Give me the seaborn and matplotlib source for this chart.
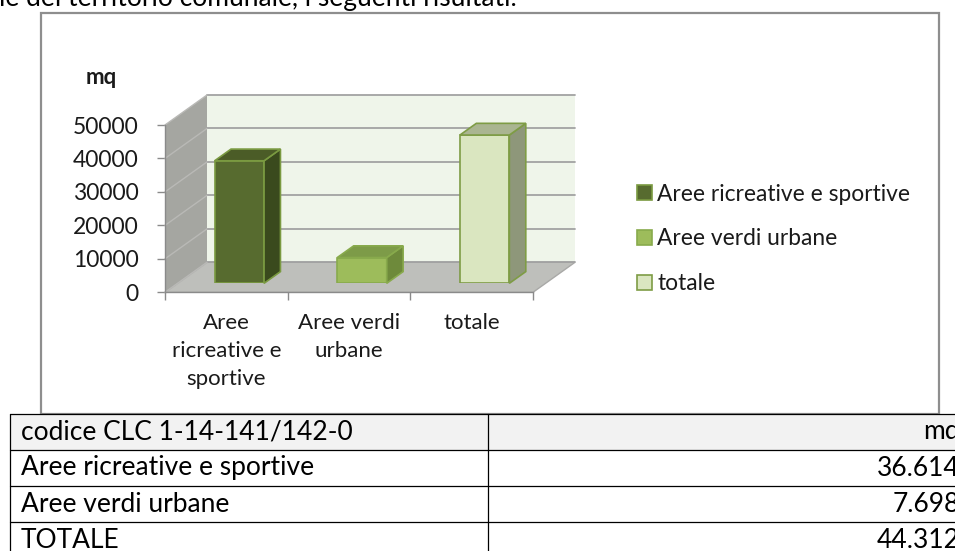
import matplotlib
matplotlib.use("Agg")
import matplotlib.pyplot as plt
from matplotlib.patches import Polygon, Rectangle, Patch
from matplotlib.lines import Line2D
import pandas as pd
import seaborn as sns

# --- data -------------------------------------------------------------
categorie = ["Aree ricreative e sportive", "Aree verdi urbane", "totale"]
etichette_asse = ["Aree\nricreative e\nsportive", "Aree verdi\nurbane", "totale"]
superfici_mq = [36614, 7698, 44312]
righe_tabella = ["Aree ricreative e sportive", "Aree verdi urbane", "TOTALE"]
intestazione = ["codice CLC 1-14-141/142-0", "mq"]
tick_y = [0, 10000, 20000, 30000, 40000, 50000]
tick_y_labels = ["0", "10000", "20000", "30000", "40000", "50000"]
testo_sopra = "le del territorio comunale, i seguenti risultati."

# --- colours ------------------------------------------------------------
colori_fronte = ["#576B2F", "#9DBC5B", "#DAE6C0"]
colori_lato = ["#3A4A1D", "#6E8A3B", "#8E977A"]
colori_cima = ["#4B5C27", "#7D9B48", "#AAB591"]
colori_bordo = ["#7A9A41", "#88AA4C", "#7E9C45"]

sns.set_theme(style="white")
plt.rcParams["font.family"] = ["Lato", "DejaVu Sans"]

W, H = 955, 551
fig = plt.figure(figsize=(W / 100, H / 100), dpi=100)
fig.patch.set_facecolor("white")


def fx(px):
    return px / W


def fy(py):
    return 1 - py / H


TXT = "#1A1A1A"

# --- main (front) axes: category axis and value axis ---------------------
AX_L, AX_R, AX_T, AX_B = 165, 533, 125, 292.3
ax_w, ax_h = (AX_R - AX_L) / W, (AX_B - AX_T) / H
ax = fig.add_axes([fx(AX_L), fy(AX_B), ax_w, ax_h])
ax.set_xlim(-0.5, 2.5)
ax.set_ylim(0, 50000)
ax.patch.set_visible(False)

px_cat = (AX_R - AX_L) / 3.0
px_val = (AX_B - AX_T) / 50000.0
DX = 42 / px_cat          # depth of the 3-D box, in category units
DY = 30 / px_val          # depth of the 3-D box, in value units

back = Polygon([(-0.5 + DX, DY), (2.5 + DX, DY), (2.5 + DX, 50000 + DY),
                (-0.5 + DX, 50000 + DY)], closed=True, fc="#EFF5EA",
               ec="none", clip_on=False, zorder=0)
side = Polygon([(-0.5, 0), (-0.5 + DX, DY), (-0.5 + DX, 50000 + DY),
                (-0.5, 50000)], closed=True, fc="#A5A6A1", ec="none",
               clip_on=False, zorder=0)
floor = Polygon([(-0.5, 0), (2.5, 0), (2.5 + DX, DY), (-0.5 + DX, DY)],
                closed=True, fc="#BEBFBB", ec="#A9A9A7", lw=1.0,
                clip_on=False, zorder=0.5)
for poly in (back, side, floor):
    ax.add_patch(poly)

for v in tick_y:
    ax.plot([-0.5 + DX, 2.5 + DX], [v + DY, v + DY], color="#A2A2A2",
            lw=1.3, clip_on=False, zorder=1)
    ax.plot([-0.5, -0.5 + DX], [v, v + DY], color="#B9B9B6", lw=1.0,
            clip_on=False, zorder=1)

ax.set_yticks(tick_y, labels=tick_y_labels)
ax.tick_params(axis="y", length=5.8, width=1.0, color="#8A8A8A", pad=13,
               labelsize=16.5, labelcolor=TXT, direction="out", left=True)
ax.set_xticks([0, 1, 2], labels=etichette_asse)
ax.set_xticks([-0.5, 0.5, 1.5, 2.5], minor=True)
ax.tick_params(axis="x", which="major", length=0, pad=15, labelsize=16,
               labelcolor=TXT)
ax.tick_params(axis="x", which="minor", length=6, width=1.0, color="#8A8A8A",
               direction="out", bottom=True)
for lab in ax.get_xticklabels():
    lab.set_linespacing(1.5)
ax.grid(False)
for name, sp in ax.spines.items():
    if name in ("left", "bottom"):
        sp.set_color("#8A8A8A")
        sp.set_linewidth(1.0)
    else:
        sp.set_visible(False)

fig.text(fx(101), fy(78), "mq", fontsize=16, fontweight="bold",
         ha="center", va="center", color=TXT)

# --- bars, placed half way into the box depth ---------------------------
bax = fig.add_axes([fx(AX_L + 13), fy(AX_B - 9), ax_w, ax_h])
df = pd.DataFrame({"categoria": categorie, "mq": superfici_mq})
sns.barplot(data=df, x="categoria", y="mq", hue="categoria",
            palette=colori_fronte, width=0.403, saturation=1, linewidth=1.2,
            legend=False, ax=bax)
bax.set_xlim(-0.5, 2.5)
bax.set_ylim(0, 50000)
bax.axis("off")

bdx = 16.4 / px_cat
bdy = 11.7 / px_val
bars = sorted(bax.patches, key=lambda p: p.get_x())
for p, c_top, c_side, c_edge in zip(bars, colori_cima, colori_lato, colori_bordo):
    p.set_edgecolor(c_edge)
    x0, w, h = p.get_x(), p.get_width(), p.get_height()
    top = Polygon([(x0, h), (x0 + w, h), (x0 + w + bdx, h + bdy),
                   (x0 + bdx, h + bdy)], closed=True, fc=c_top, ec=c_edge,
                  lw=1.2, clip_on=False, zorder=p.get_zorder())
    lat = Polygon([(x0 + w, 0), (x0 + w + bdx, bdy), (x0 + w + bdx, h + bdy),
                   (x0 + w, h)], closed=True, fc=c_side, ec=c_edge,
                  lw=1.2, clip_on=False, zorder=p.get_zorder())
    bax.add_patch(lat)
    bax.add_patch(top)

# --- legend -------------------------------------------------------------
handles = [Patch(facecolor=c, edgecolor=e, lw=1.2)
           for c, e in zip(colori_fronte, colori_bordo)]
fig.legend(handles, categorie, loc="center left",
           bbox_to_anchor=(fx(637), fy(239)), frameon=False, fontsize=16.4,
           handlelength=0.64, handleheight=0.64, handletextpad=0.25,
           labelspacing=1.05, borderpad=0, borderaxespad=0,
           labelcolor=TXT)

# --- chart frame --------------------------------------------------------
fig.add_artist(Rectangle((fx(41), fy(414)), (939 - 41) / W, (414 - 12.7) / H,
                         transform=fig.transFigure, fill=False,
                         ec="#8E8E8E", lw=1.6))

# --- text above the chart -----------------------------------------------
FS_TAB = 19
fig.text(fx(-1), fy(6), testo_sopra, fontsize=FS_TAB, va="baseline",
         ha="left", color="black")

# --- table below the chart ----------------------------------------------
fig.add_artist(Rectangle((fx(10), fy(450)), 1.0, 36 / H,
                         transform=fig.transFigure, fc="#F2F2F2", ec="none"))
for yl in (414, 450, 486, 522):
    fig.add_artist(Line2D([fx(10), 1.01], [fy(yl), fy(yl)], color="black",
                          lw=0.9, transform=fig.transFigure))
for xl in (10, 488):
    fig.add_artist(Line2D([fx(xl), fx(xl)], [fy(414), -0.01], color="black",
                          lw=0.9, transform=fig.transFigure))

valori_tabella = [f"{v:,}".replace(",", ".") for v in superfici_mq]
fig.text(fx(21), fy(432), intestazione[0], fontsize=FS_TAB, va="center",
         ha="left", color="black")
fig.text(fx(960), fy(432), intestazione[1], fontsize=FS_TAB, va="center",
         ha="right", color="black")
for i, (nome, val) in enumerate(zip(righe_tabella, valori_tabella)):
    yc = 468 + 36 * i
    fig.text(fx(21), fy(yc), nome, fontsize=FS_TAB, va="center", ha="left",
             color="black")
    fig.text(fx(960), fy(yc), val, fontsize=FS_TAB, va="center", ha="right",
             color="black")

fig.savefig("out.png", dpi=100)
